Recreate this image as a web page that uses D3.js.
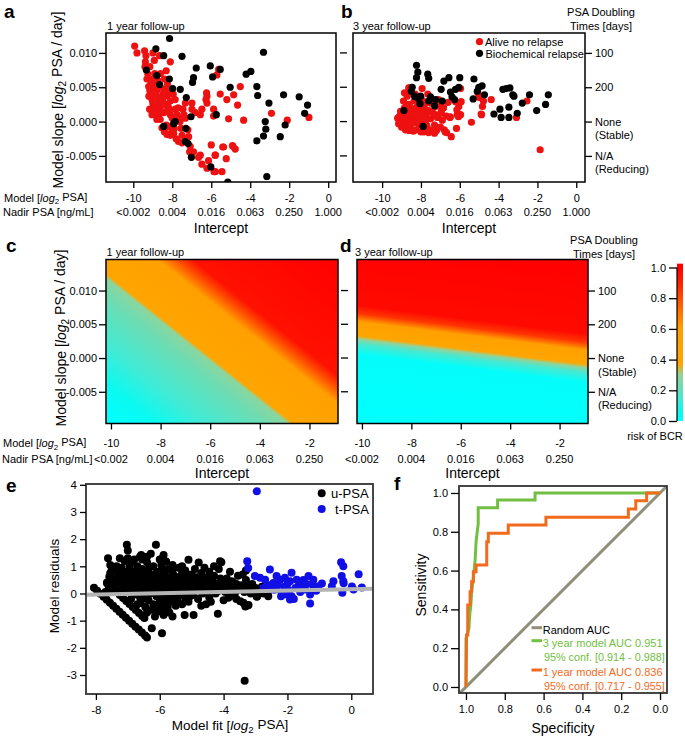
<!DOCTYPE html>
<html><head><meta charset="utf-8">
<script src="https://cdn.jsdelivr.net/npm/d3@7"></script>
<style>body{margin:0;background:#fff;} svg{display:block;}</style>
</head><body>
<svg id="chart" width="685" height="736"></svg>
<script>
// ---------------- DATA ----------------
const interceptTicks = [-10,-8,-6,-4,-2,0];
const modelLabels = ["-10","-8","-6","-4","-2","0"];
const nadirLabels = ["<0.002","0.004","0.016","0.063","0.250","1.000"];
const heatTicks = [-10,-8,-6,-4,-2];
const heatModelLabels = ["-10","-8","-6","-4","-2"];
const heatNadirLabels = ["<0.002","0.004","0.016","0.063","0.250"];
const slopeTicks = [-0.005,0,0.005,0.010];
const slopeLabels = ["-0.005","0.000","0.005","0.010"];
const doublingTicks = [0.010,0.005,0,-0.005];
const doublingLabels = [["100"],["200"],["None","(Stable)"],["N/A","(Reducing)"]];

const aRed = [
[-9.93,0.0110],[-9.81,0.0100],[-9.42,0.0103],[-9.35,0.0096],[-9.38,0.0087],[-8.99,0.0100],[-8.92,0.0089],[-8.65,0.0096],[-8.31,0.0074],[-8.10,0.0087],
[-9.25,0.0069],[-9.30,0.0062],[-9.21,0.0051],[-8.99,0.0062],[-8.87,0.0054],[-9.09,0.0042],[-9.04,0.0032],[-8.96,0.0025],[-8.82,0.0013],[-8.70,0.0036],
[-8.62,0.0023],[-8.48,0.0032],[-8.36,0.0047],[-8.27,0.0038],[-8.22,0.0023],[-8.44,0.0013],[-8.10,0.0010],[-8.19,-0.0007],[-8.02,-0.0014],[-8.27,-0.0019],
[-7.93,-0.0017],[-8.53,-0.0009],[-8.79,0.0003],[-9.04,0.0010],[-9.16,0.0018],[-8.62,0.0003],[-7.85,0.0032],[-7.85,0.0018],[-7.68,0.0005],[-7.45,0.0018],
[-7.33,0.0027],[-6.99,0.0027],[-6.99,0.0018],[-7.33,0.0005],[-7.68,-0.0029],[-7.50,-0.0031],[-7.16,-0.0022],[-7.08,-0.0036],[-6.91,-0.0044],[-7.11,-0.0044],
[-6.56,-0.0049],[-6.65,-0.0052],[-6.48,-0.0062],[-6.22,-0.0068],[-5.79,-0.0073],[-5.45,-0.0073],[-6.14,-0.0057],[-6.00,-0.0034],[-5.79,-0.0049],[-5.41,-0.0037],
[-4.89,-0.0036],[-4.77,-0.0040],[-5.23,-0.0054],[-6.56,0.0010],[-6.82,0.0013],[-6.48,0.0018],[-6.22,0.0027],[-6.22,0.0037],[-6.27,0.0032],[-5.88,0.0018],
[-5.88,0.0008],[-6.24,0.0042],[-5.71,0.0068],[-5.62,0.0076],[-5.54,0.0040],[-5.20,0.0032],[-5.11,0.0004],[-4.85,0.0039],[-4.51,0.0051],[-4.65,0.0024],
[-4.34,0.0002],[-2.91,0.0012],[-2.10,0.0002],[-0.99,0.0006],
[-9.10,0.0058],[-8.80,0.0045],[-8.60,0.0050],[-8.50,0.0028],[-8.30,0.0015],[-8.90,0.0018],[-8.70,0.0007],[-8.10,0.0030],[-8.00,0.0005],[-7.90,-0.0010],
[-8.40,-0.0015],[-8.60,0.0035],[-9.20,0.0037],[-9.00,0.0027],[-8.75,0.0060],[-8.40,0.0062],[-8.20,0.0045],[-7.95,0.0040],[-7.70,0.0020],[-7.60,0.0000],
[-7.50,-0.0020],[-7.30,-0.0026],[-7.20,-0.0012],[-7.40,0.0010],[-5.37,-0.0037],[-4.91,-0.0035],[-5.80,-0.0049],[-5.86,-0.0073],
[-9.15,0.0045],[-8.95,0.0040],[-8.85,0.0030],[-8.75,0.0020],[-8.55,0.0015],[-8.45,0.0042],[-8.35,0.0025],[-8.15,0.0018],[-8.05,0.0040],[-9.05,0.0050],
[-8.65,0.0012],[-8.90,0.0070],[-8.60,0.0070],[-8.25,0.0055],[-9.40,0.0080],[-9.15,0.0080],[-7.75,0.0010],[-7.55,-0.0010],[-8.30,-0.0005],[-8.10,-0.0020],[-7.80,-0.0025]
];
const aBlack = [
[-8.14,0.0121],[-8.84,0.0106],[-8.44,0.0096],[-7.50,0.0095],[-9.33,0.0075],[-8.79,0.0067],[-8.15,0.0062],[-8.65,0.0054],[-7.98,0.0048],[-7.59,0.0047],
[-7.28,0.0035],[-6.77,0.0078],[-6.91,0.0064],[-6.96,0.0057],[-6.05,0.0081],[-5.93,0.0065],[-5.54,0.0076],[-5.74,0.0010],[-7.04,0.0007],[-7.93,-0.0003],
[-7.85,0.0000],[-8.44,-0.0007],[-7.30,-0.0010],[-7.33,-0.0029],[-7.19,-0.0032],[-7.02,-0.0052],[-6.02,-0.0066],[-5.03,0.0050],[-4.21,0.0069],[-3.97,0.0073],
[-3.32,0.0101],[-3.66,0.0051],[-3.62,0.0038],[-3.04,0.0027],[-3.23,0.0000],[-3.20,-0.0011],[-3.32,-0.0021],[-3.66,-0.0028],[-2.29,0.0039],[-2.21,-0.0005],
[-2.46,-0.0022],[-1.49,0.0036],[-1.06,0.0024],[-1.21,0.0012],[-3.15,-0.0080],[-5.15,-0.0088]
];
const bRed = [
[-9.10,0.0008],[-9.00,0.0002],[-8.95,0.0013],[-8.90,-0.0003],[-8.85,0.0020],[-8.80,0.0008],[-8.75,-0.0006],[-8.70,0.0015],[-8.65,0.0003],[-8.60,0.0025],
[-8.55,-0.0008],[-8.50,0.0010],[-8.45,0.0018],[-8.40,-0.0002],[-8.35,0.0030],[-8.30,0.0005],[-8.25,-0.0012],[-8.20,0.0015],[-8.15,0.0024],[-8.10,-0.0005],
[-8.05,0.0008],[-8.00,0.0035],[-7.95,0.0018],[-7.90,0.0000],[-7.85,-0.0015],[-7.80,0.0026],[-7.75,0.0010],[-7.70,-0.0006],[-7.65,0.0040],[-7.60,0.0016],
[-7.55,-0.0012],[-7.50,0.0004],[-7.45,0.0030],[-7.40,-0.0014],[-7.35,0.0012],[-7.30,-0.0005],[-7.25,0.0022],[-7.20,-0.0013],[-7.15,0.0006],[-7.10,0.0032],
[-7.00,-0.0008],[-6.95,0.0014],[-6.90,0.0002],[-6.85,0.0020],[-6.80,-0.0012],[-6.70,0.0008],[-6.60,0.0028],[-6.50,0.0006],
[-8.63,0.0049],[-8.56,0.0049],[-7.94,0.0048],[-8.71,0.0037],[-8.11,0.0032],[-7.85,0.0029],[-7.51,0.0027],[-7.16,0.0029],[-6.99,0.0022],[-6.99,0.0012],
[-5.96,0.0048],[-6.22,0.0029],[-6.05,0.0022],[-5.93,0.0029],[-6.13,0.0010],[-5.96,0.0010],[-6.17,-0.0010],[-6.44,-0.0022],[-6.68,-0.0016],[-5.40,-0.0001],
[-4.88,0.0010],[-5.07,0.0042],[-5.00,0.0035],[-4.78,0.0030],[-4.83,0.0022],[-4.90,0.0011],[-4.38,0.0032],[-3.08,0.0006],[-2.54,0.0030],[-1.86,-0.0041],
[-6.15,0.0017],[-6.07,0.0007],[-6.75,-0.0015],[-6.49,0.0007],[-6.84,0.0020],[-9.20,0.0005],[-9.15,-0.0003],[-9.05,0.0015],[-8.90,0.0030],[-8.80,-0.0012],
[-8.60,-0.0013],[-8.40,-0.0014],[-8.00,-0.0015],[-7.60,-0.0016],[-7.30,-0.0017],[-8.30,0.0040],[-8.50,0.0042],[-8.85,0.0042],
[-8.95,0.0005],[-8.70,0.0000],[-8.45,0.0006],[-8.20,0.0000],[-8.00,0.0012],[-7.75,0.0002],[-7.50,0.0014],[-7.25,0.0008],[-8.60,0.0010],[-8.35,0.0012],
[-8.05,0.0022],[-7.80,0.0018],[-9.00,-0.0008],[-8.75,0.0025],[-8.50,-0.0002],[-8.25,0.0020]
];
const bBlack = [
[-8.23,0.0082],[-8.16,0.0072],[-8.23,0.0064],[-7.65,0.0069],[-7.60,0.0063],[-8.45,0.0050],[-8.33,0.0037],[-8.16,0.0034],[-8.02,0.0037],[-7.51,0.0036],
[-7.25,0.0032],[-7.30,0.0023],[-6.82,0.0059],[-6.56,0.0064],[-6.96,0.0047],[-6.48,0.0043],[-6.22,0.0047],[-6.05,0.0050],[-6.00,0.0064],[-6.27,0.0032],
[-5.27,0.0062],[-5.02,0.0050],[-4.85,0.0052],[-5.10,0.0044],[-5.31,0.0033],[-4.73,0.0039],[-8.88,0.0016],[-7.89,-0.0007],[-4.24,0.0011],[-3.93,0.0018],
[-3.87,0.0006],[-3.78,0.0047],[-3.61,0.0048],[-3.42,0.0049],[-3.27,0.0039],[-3.21,0.0037],[-3.47,0.0021],[-3.47,0.0006],[-3.04,0.0012],[-2.78,0.0027],
[-2.41,0.0039],[-2.04,0.0016],[-1.58,0.0025],[-1.44,0.0039],[-8.50,0.0044],[-8.05,0.0026],[-7.60,0.0030],[-6.90,0.0030],[-6.40,0.0036]
];

// heatmap isoline anchors: [intercept, slope] points on isolines and their risk
const colorRisk = [0,0.05,0.14,0.22,0.30,0.37,0.60,0.75,0.88,1.0];
const colorHex = ["#00ffff","#0afaf2","#40ebd6","#6edcb2","#90d49a","#ffa500","#ffa000","#ff6400","#ff2800","#ff0000"];
const heatCDir = [1,-0.00294];
const heatCX = [-10.2,-10.2,-10.2,-10.2,-10.2,-10.2,-8.13,-7.35,-6.71,-0.85];
const heatCY = [-0.0097,-0.0037,0.0018,0.0092,0.0119,0.0125,0.0146,0.0146,0.0146,0.0146];
const heatCR = [0,0.05,0.14,0.22,0.29,0.38,0.58,0.80,0.95,1.0];
const heatDDir = [1,-0.00046];
const heatDX = [-10.16,-10.16,-10.16,-10.16,-10.16,-10.16,-10.16,-10.16,-0.85];
const heatDY = [-0.0097,0.0006,0.0021,0.0028,0.0033,0.0054,0.0066,0.0078,0.0146];
const heatDR = [0,0.02,0.155,0.30,0.38,0.6,0.85,0.97,1.0];
const barTicks = [0,0.2,0.4,0.6,0.8,1.0];
const barLabels = ["0.0","0.2","0.4","0.6","0.8","1.0"];

// panel e
const eLine1 = [[-8.06,0.21],[-7.96,0.10],[-7.86,-0.01],[-7.76,-0.12],[-7.66,-0.23],[-7.56,-0.34],[-7.46,-0.45],[-7.36,-0.56],[-7.26,-0.67],[-7.16,-0.78],[-7.06,-0.89],[-6.96,-1.00],[-6.86,-1.11],[-6.76,-1.22],[-6.66,-1.33],[-6.56,-1.44],[-6.46,-1.55],[-6.40,-1.62]];
const eLine2 = [[-7.65,0.38],[-7.55,0.27],[-7.45,0.16],[-7.35,0.05],[-7.25,-0.06],[-7.15,-0.17],[-7.05,-0.28],[-6.95,-0.39],[-6.85,-0.50],[-6.75,-0.61],[-6.65,-0.72],[-6.55,-0.83],[-6.48,-0.90]];
const eCloud = [
[-7.62,1.30],[-7.55,1.05],[-7.50,0.88],[-7.58,0.62],[-7.55,0.45],[-7.60,0.28],[-7.50,0.15],[-7.70,0.05],
[-7.35,0.82],[-7.20,0.95],[-7.28,0.70],[-7.10,0.55],[-7.30,0.40],[-7.15,0.25],[-7.40,0.18],[-7.00,0.10],[-7.03,1.79],[-7.00,1.58],[-7.10,1.20],[-6.95,1.02],[-7.25,0.05],[-7.05,0.35],
[-6.90,0.85],[-6.80,0.65],[-6.70,1.00],[-6.62,1.35],[-6.55,1.25],[-6.85,0.45],[-6.65,0.30],[-6.75,0.15],[-6.90,0.25],[-6.60,0.55],[-6.58,1.42],[-6.50,0.75],[-6.70,-0.05],[-6.55,-0.20],[-6.60,-0.35],[-6.45,-0.50],[-6.80,0.00],
[-6.28,1.46],[-6.12,1.79],[-6.40,1.15],[-6.20,1.00],[-6.35,0.90],[-6.10,0.80],[-6.30,0.70],[-6.45,0.55],[-6.15,0.50],[-6.05,0.35],[-6.30,0.25],[-6.20,0.10],[-6.40,0.05],[-6.10,-0.10],[-6.35,-0.25],[-6.25,-1.28],[-6.05,-0.55],[-6.00,0.65],[-6.45,0.35],[-6.20,-0.40],
[-5.88,1.42],[-5.91,1.30],[-5.95,1.05],[-5.80,1.18],[-5.75,0.90],[-5.85,0.75],[-5.60,0.80],[-5.70,0.60],[-5.90,0.50],[-5.55,0.45],[-5.80,0.30],[-5.65,0.20],[-5.95,0.15],[-5.70,0.00],[-5.90,-0.15],[-5.75,-0.50],[-5.93,-1.46],[-5.60,-0.30],[-5.55,0.05],[-5.85,-0.60],
[-5.40,0.95],[-5.30,0.75],[-5.10,1.24],[-5.20,0.85],[-5.45,0.60],[-5.35,0.45],[-5.05,0.55],[-5.25,0.30],[-5.40,0.15],[-5.15,0.10],[-5.30,-0.05],[-5.22,-0.79],[-5.10,-0.30],[-5.45,-0.20],[-5.00,0.70],[-5.05,0.35],[-5.60,-0.85],
[-4.78,1.14],[-4.90,0.90],[-4.70,0.75],[-4.85,0.60],[-4.60,0.50],[-4.95,0.45],[-4.75,0.30],[-4.55,0.20],[-4.90,0.10],[-4.65,0.00],[-4.94,-0.79],[-4.80,-0.20],[-4.55,-0.40],[-4.70,0.55],
[-4.45,0.80],[-4.30,0.65],[-4.07,1.15],[-4.15,0.90],[-4.40,0.45],[-4.20,0.35],[-4.35,0.15],[-4.10,0.55],[-4.25,0.00],[-4.18,-0.75],[-4.05,0.20],[-4.45,-0.15],[-4.11,1.19],
[-3.90,0.55],[-3.75,0.45],[-3.60,0.35],[-3.85,0.25],[-3.70,0.15],[-3.55,0.65],[-3.95,0.05],[-3.80,-0.10],[-3.65,0.00],[-3.85,-0.16],
[-3.40,0.70],[-3.30,0.50],[-3.45,0.30],[-3.25,0.20],[-3.35,0.05],[-3.48,-0.29],[-3.32,-0.48],[-3.22,-0.42],[-3.38,-0.34],[-3.34,-3.21],[-3.10,0.35],[-3.00,0.20],[-2.90,0.10],[-2.80,0.25],[-2.70,0.15],[-2.60,0.10],[-2.95,-0.10],[-3.15,0.00],[-2.75,0.00],[-2.65,0.21],[-2.60,-0.10],[-2.96,-0.12],[-3.25,-0.44],
[-7.45,0.55],[-7.20,0.15],[-7.00,0.45],[-6.95,0.70],[-6.75,0.80],[-6.50,0.40],[-6.50,0.15],[-6.65,0.60],[-6.35,0.50],[-6.55,0.90],[-7.15,0.75],[-6.85,1.15],[-6.25,0.45],[-6.60,0.10],[-6.30,0.00],[-5.95,0.30],[-5.50,0.30],[-5.20,0.55],[-4.85,0.25],[-4.50,0.60],[-5.60,0.60],[-5.30,0.15],[-4.60,0.35],[-4.30,0.30],[-6.90,-0.20],[-6.70,-0.40],[-6.50,-0.15],[-6.05,0.10],[-5.80,-0.25],[-5.30,-0.40],[-4.95,-0.05],
[-6.14,-0.48],[-6.04,-0.66],[-5.88,-0.79],[-6.61,-0.17],
[-7.40,0.35],[-7.30,0.60],[-7.20,0.45],[-7.10,0.05],[-7.05,0.80],[-6.95,0.55],[-6.90,0.10],[-6.85,0.35],[-6.75,0.50],[-6.70,0.25],[-6.65,0.75],[-6.60,-0.05],[-6.55,0.45],[-6.45,0.70],[-6.40,0.25],[-6.35,0.10],[-6.30,0.45],[-6.25,0.60],[-6.20,0.30],[-6.15,0.15],
[-6.10,0.60],[-6.05,0.00],[-6.00,0.45],[-5.95,0.85],[-5.90,0.35],[-5.85,0.05],[-5.80,0.60],[-5.75,0.25],[-5.70,0.45],[-5.65,-0.10],[-5.60,0.15],[-5.55,0.65],[-5.50,0.10],[-5.45,0.35],[-5.40,-0.05],[-5.35,0.25],[-5.30,0.55],[-5.25,0.05],[-5.20,0.40],[-5.15,0.70],
[-5.10,0.20],[-5.05,-0.10],[-5.00,0.15],[-4.90,0.35],[-4.80,0.45],[-4.75,0.10],[-4.60,0.20],[-4.50,0.05],[-4.45,0.30],[-4.35,0.50],[-4.25,0.20],[-4.15,0.10],[-4.00,0.40],[-3.90,0.30],[-3.80,0.15],[-3.70,0.40],[-3.60,0.10],[-3.50,0.20],[-3.30,0.30],[-3.20,0.10],
[-3.05,0.05],[-2.85,0.15],[-7.55,0.75],[-7.45,0.95],[-7.65,0.40],[-7.35,1.00],[-7.25,1.30],[-7.00,1.30],[-6.80,1.25],[-6.40,1.35],[-6.00,1.25],[-5.60,1.05],[-5.30,1.00],[-4.60,0.95],[-4.30,1.00],[-3.80,0.80],[-3.30,0.85],[-6.25,-0.60],[-6.00,-0.30],[-5.50,-0.45],
[-5.20,-0.20],[-4.70,-0.45],[-4.40,-0.30],[-4.00,-0.25],[-3.60,-0.20],[-5.90,-0.40],[-6.40,-0.70],[-6.15,-0.85],[-5.70,-0.70]
];
const eT = [
[-2.96,3.76],[-3.26,1.19],[-3.23,0.94],[-3.02,0.64],[-2.86,0.58],[-2.55,0.88],[-2.70,0.51],[-2.44,0.39],[-2.34,0.64],[-2.23,0.51],
[-2.08,0.58],[-1.87,0.76],[-1.92,0.45],[-1.71,0.51],[-1.55,0.39],[-1.34,0.64],[-1.19,0.51],[-1.29,-0.04],[-1.29,-0.37],[-0.92,0.37],
[-0.56,0.45],[-0.32,1.15],[-0.25,1.00],[-0.30,0.64],[-0.25,0.45],[-0.28,0.03],[0.07,0.15],[-2.18,0.03],[-2.02,-0.04],[-1.87,-0.10],
[-2.39,0.15],[-1.92,-0.22],[-1.45,0.15],[-1.66,0.27],[-1.03,0.27],[-0.61,0.27],[0.23,0.71],[0.02,0.26],[0.33,0.22],[-0.24,0.38],
[-2.60,0.30],[-2.45,0.15],[-2.30,0.30],[-2.10,0.25],[-1.95,0.10],[-1.75,0.20],[-1.60,0.05],[-1.40,0.35],[-1.10,0.10],[-2.20,-0.10],[-1.80,-0.20],
[-2.75,0.20],[-1.50,0.50],[-2.00,0.35],[-1.20,0.30]
];
const fitX = [-8.3,0.68];
const fitY = [-0.05,0.17];
const eXTicks = [-8,-6,-4,-2,0];
const eYTicks = [-3,-2,-1,0,1,2,3,4];

// panel f ROC
const roc3Spec = [1.0,1.0,0.985,0.98,0.975,0.97,0.965,0.96,0.955,0.952,0.948,0.942,0.937,0.937,0.837,0.837,0.644,0.644,0.0];
const roc3Sens = [0,0.25,0.30,0.38,0.42,0.50,0.54,0.58,0.63,0.67,0.75,0.80,0.84,0.924,0.924,0.964,0.964,1.0,1.0];
const roc1Spec = [1.0,0.997,0.991,0.991,0.979,0.979,0.971,0.971,0.962,0.962,0.948,0.948,0.893,0.893,0.885,0.885,0.782,0.782,0.588,0.588,0.163,0.163,0.125,0.125,0.069,0.069,0.0];
const roc1Sens = [0,0.268,0.268,0.423,0.423,0.491,0.491,0.543,0.543,0.594,0.594,0.629,0.629,0.749,0.749,0.792,0.792,0.835,0.835,0.875,0.875,0.918,0.918,0.960,0.960,1.0,1.0];
const randSpec = [1.036,-0.036];
const randSens = [-0.036,1.036];
const fTicks = [0,0.2,0.4,0.6,0.8,1.0];
const fLabels = ["0.0","0.2","0.4","0.6","0.8","1.0"];

// ---------------- DRAW ----------------
const FONT = '"Liberation Sans", Arial, Helvetica, sans-serif';
const svg = d3.select("#chart").attr("font-family", FONT);
const defs = svg.append("defs");
const RED = "#ee1111", BLUE = "#1010e6", GREEN = "#72c043", ORANGE = "#f26b1d", GREY = "#8f8f7c";

function axis(gen, tx, ty, fs) {
  const a = svg.append("g").attr("transform", `translate(${tx},${ty})`).call(gen);
  a.attr("font-size", fs).attr("font-family", FONT);
  a.select(".domain").remove();
  a.selectAll(".tick line").attr("stroke", "#000").attr("stroke-width", 1.3);
  a.selectAll(".tick text").attr("fill", "#000");
  return a;
}
function txt(x, y, s, fs, opts = {}) {
  const t = svg.append("text").attr("x", x).attr("y", y).attr("font-size", fs).text(s);
  if (opts.anchor) t.attr("text-anchor", opts.anchor);
  if (opts.weight) t.attr("font-weight", opts.weight);
  if (opts.fill) t.attr("fill", opts.fill);
  return t;
}
function logLabel(t, pre, post) {
  t.text(null);
  t.append("tspan").text(pre);
  t.append("tspan").attr("font-style", "italic").text("log");
  t.append("tspan").attr("font-size", "0.72em").attr("dy", "0.3em").text("2");
  t.append("tspan").attr("dy", "-0.3em").text(post);
  return t;
}
function frame(xs, ys, color, w) {
  const [x0, x1] = xs.range(), [yb, yt] = ys.range();
  svg.append("rect").attr("x", x0).attr("y", yt).attr("width", x1 - x0).attr("height", yb - yt)
    .attr("fill", "none").attr("stroke", color).attr("stroke-width", w);
}
function clipFor(id, xs, ys) {
  const [x0, x1] = xs.range(), [yb, yt] = ys.range();
  defs.append("clipPath").attr("id", id).append("rect").attr("x", x0).attr("y", yt).attr("width", x1 - x0).attr("height", yb - yt);
  return `url(#${id})`;
}
function dots(data, xs, ys, r, fill, clip) {
  svg.append("g").attr("clip-path", clip).selectAll("circle").data(data).join("circle")
    .attr("cx", d => xs(d[0])).attr("cy", d => ys(d[1])).attr("r", r).attr("fill", fill);
}
function slopeYAxis(ys, x) {
  axis(d3.axisLeft(ys).tickValues(slopeTicks).tickFormat((d, i) => slopeLabels[i]).tickSize(7).tickPadding(2), x, 0, 11);
}
function interceptXAxis(xs, ys, ticks, l1, l2, pad, row2y, titleY) {
  const yb = ys.range()[0];
  axis(d3.axisBottom(xs).tickValues(ticks).tickFormat((d, i) => l1[i]).tickSize(6).tickPadding(pad), 0, yb, 11);
  svg.append("g").selectAll("text").data(ticks).join("text")
    .attr("x", d => xs(d)).attr("y", row2y).attr("text-anchor", "middle").attr("font-size", 11).text((d, i) => l2[i]);
  const [x0, x1] = xs.range();
  txt((x0 + x1) / 2, titleY, "Intercept", 14, { anchor: "middle" });
}
function ghostTicks(ys, x) { // short left ticks detached from the box
  svg.append("g").selectAll("line").data(slopeTicks).join("line")
    .attr("x1", x).attr("x2", x + 7).attr("y1", d => ys(d)).attr("y2", d => ys(d))
    .attr("stroke", "#000").attr("stroke-width", 1.3);
}
function doublingAxis(ys, x, t1y, t2y) {
  axis(d3.axisRight(ys).tickValues(doublingTicks).tickFormat("").tickSize(7), x, 0, 11);
  const g = svg.append("g").attr("font-size", 11);
  doublingTicks.forEach((v, i) => {
    doublingLabels[i].forEach((s, j) => {
      g.append("text").attr("x", x + 10).attr("y", ys(v) + 4 + j * 13.5).text(s);
    });
  });
  txt(x + 16, t1y, "PSA Doubling", 11, { anchor: "middle" });
  txt(x + 16, t2y, "Times [days]", 11, { anchor: "middle" });
}

// ---- panel a ----
const xA = d3.scaleLinear([-11.4, 0.4], [106, 336]);
const yA = d3.scaleLinear([-0.0088, 0.0129], [182, 33]);
const clipA = clipFor("clipA", xA, yA);
dots(aRed, xA, yA, 3.6, RED, clipA);
dots(aBlack, xA, yA, 3.6, "#000", clipA);
frame(xA, yA, "#000", 1.5);
slopeYAxis(yA, 106);
interceptXAxis(xA, yA, interceptTicks, modelLabels, nadirLabels, 6, 215.7, 232.5);
txt(107, 30, "1 year follow-up", 11);
txt(4, 18, "a", 19, { weight: "bold" });
logLabel(txt(4, 201.7, "", 11), "Model [", " PSA]");
txt(3, 215.7, "Nadir PSA [ng/mL]", 11);
logLabel(svg.append("text").attr("transform", "translate(63,100) rotate(-90)").attr("text-anchor", "middle").attr("font-size", 14),
  "Model slope [", " PSA / day]");

// ---- panel b ----
const xB = d3.scaleLinear([-11.5, 0.45], [353, 585]);
const yB = d3.scaleLinear([-0.0088, 0.0129], [182, 33]);
const clipB = clipFor("clipB", xB, yB);
dots(bRed, xB, yB, 3.6, RED, clipB);
dots(bBlack, xB, yB, 3.6, "#000", clipB);
frame(xB, yB, "#000", 1.5);
ghostTicks(yB, 340);
interceptXAxis(xB, yB, interceptTicks, modelLabels, nadirLabels, 6, 215.7, 232.5);
doublingAxis(yB, 585, 16, 29.5);
txt(353, 30, "3 year follow-up", 11);
txt(341, 18, "b", 19, { weight: "bold" });
svg.append("circle").attr("cx", 479.5).attr("cy", 41.7).attr("r", 3.6).attr("fill", RED);
txt(485, 45.7, "Alive no relapse", 11);
svg.append("circle").attr("cx", 479.5).attr("cy", 53.3).attr("r", 3.6).attr("fill", "#000");
txt(485.5, 57.5, "Biochemical relapse", 11);

// ---- heatmaps ----
const colorScale = d3.scaleLinear().domain(colorRisk).range(colorHex).interpolate(d3.interpolateRgb);
function drawHeat(id, xs, ys, dir, ax, ay, ar) {
  const kx = xs(1) - xs(0), ky = ys(1) - ys(0);
  let dx = dir[0] * kx, dy = dir[1] * ky; const L = Math.hypot(dx, dy); dx /= L; dy /= L;
  const nx = -dy, ny = dx;
  const s = (px, py) => px * nx + py * ny;
  const [x0, x1] = xs.range(), [yb, yt] = ys.range();
  const cs = [[x0, yt], [x1, yt], [x0, yb], [x1, yb]].map(p => s(p[0], p[1]));
  const smin = d3.min(cs), smax = d3.max(cs);
  const cx = (x0 + x1) / 2, cy = (yt + yb) / 2, sc = s(cx, cy);
  const grad = defs.append("linearGradient").attr("id", id).attr("gradientUnits", "userSpaceOnUse")
    .attr("x1", cx + nx * (smin - sc)).attr("y1", cy + ny * (smin - sc))
    .attr("x2", cx + nx * (smax - sc)).attr("y2", cy + ny * (smax - sc));
  const st = ax.map((v, i) => ({ o: (s(xs(v), ys(ay[i])) - smin) / (smax - smin), r: ar[i] })).sort((a, b) => a.o - b.o);
  grad.selectAll("stop").data(st).join("stop")
    .attr("offset", d => Math.max(0, Math.min(1, d.o))).attr("stop-color", d => colorScale(d.r));
  svg.append("rect").attr("x", x0).attr("y", yt).attr("width", x1 - x0).attr("height", yb - yt).attr("fill", `url(#${id})`);
}

// ---- panel c ----
const xC = d3.scaleLinear([-10.2, -0.85], [106, 338]);
const yC = d3.scaleLinear([-0.0097, 0.0146], [423.5, 259.5]);
drawHeat("gradC", xC, yC, heatCDir, heatCX, heatCY, heatCR);
frame(xC, yC, "#000", 1.5);
slopeYAxis(yC, 106);
interceptXAxis(xC, yC, heatTicks, heatModelLabels, heatNadirLabels, 10, 463, 478);
txt(106.5, 256, "1 year follow-up", 11);
txt(6, 252, "c", 19, { weight: "bold" });
logLabel(txt(3, 447.3, "", 11), "Model [", " PSA]");
txt(2, 463, "Nadir PSA [ng/mL]", 11);
logLabel(svg.append("text").attr("transform", "translate(66,338) rotate(-90)").attr("text-anchor", "middle").attr("font-size", 14),
  "Model slope [", " PSA / day]");

// ---- panel d ----
const xD = d3.scaleLinear([-10.2, -0.85], [357, 588]);
const yD = d3.scaleLinear([-0.0097, 0.0146], [423.5, 259.5]);
drawHeat("gradD", xD, yD, heatDDir, heatDX, heatDY, heatDR);
frame(xD, yD, "#000", 1.5);
ghostTicks(yD, 341);
interceptXAxis(xD, yD, heatTicks, heatModelLabels, heatNadirLabels, 10, 463, 478);
doublingAxis(yD, 588, 244, 258);
txt(355, 256, "3 year follow-up", 11);
txt(340, 252, "d", 19, { weight: "bold" });

// colour bar
const yBar = d3.scaleLinear([0, 1], [421, 267.5]);
const barGrad = defs.append("linearGradient").attr("id", "barGrad").attr("gradientUnits", "userSpaceOnUse")
  .attr("x1", 0).attr("x2", 0).attr("y1", yBar(0)).attr("y2", yBar(1));
barGrad.selectAll("stop").data(colorRisk).join("stop").attr("offset", d => d).attr("stop-color", (d, i) => colorHex[i]);
svg.append("rect").attr("x", 677).attr("y", yBar(1.025)).attr("width", 6).attr("height", yBar(0) - yBar(1.025)).attr("fill", "url(#barGrad)");
svg.append("line").attr("x1", 677).attr("x2", 677).attr("y1", yBar(1)).attr("y2", yBar(0)).attr("stroke", "#000").attr("stroke-width", 1.2);
axis(d3.axisLeft(yBar).tickValues(barTicks).tickFormat((d, i) => barLabels[i]).tickSize(8).tickPadding(3), 677, 0, 11);
txt(655, 440, "risk of BCR", 11, { anchor: "middle" });

// ---- panel e ----
const xE = d3.scaleLinear([-8.31, 0.68], [86, 373]);
const yE = d3.scaleLinear([-3.7, 4.03], [694, 484]);
const clipE = clipFor("clipE", xE, yE);
dots(eLine1, xE, yE, 4, "#000", clipE);
dots(eLine2, xE, yE, 4, "#000", clipE);
dots(eCloud, xE, yE, 4, "#000", clipE);
dots(eT, xE, yE, 4, BLUE, clipE);
svg.append("line").attr("clip-path", clipE)
  .attr("x1", xE(fitX[0])).attr("y1", yE(fitY[0])).attr("x2", xE(fitX[1])).attr("y2", yE(fitY[1]))
  .attr("stroke", "#b4b4b4").attr("stroke-width", 4);
frame(xE, yE, "#333", 1.8);
axis(d3.axisLeft(yE).tickValues(eYTicks).tickFormat(d => String(d)).tickSize(6).tickPadding(3), 86, 0, 11.5);
axis(d3.axisBottom(xE).tickValues(eXTicks).tickFormat(d => String(d)).tickSize(6).tickPadding(6), 0, 694, 11.5);
logLabel(txt(230, 730, "", 13.5, { anchor: "middle" }), "Model fit [", " PSA]");
svg.append("text").attr("transform", "translate(59,586) rotate(-90)").attr("text-anchor", "middle").attr("font-size", 13.5).text("Model residuals");
txt(6, 492, "e", 19, { weight: "bold" });
svg.append("circle").attr("cx", 321.7).attr("cy", 493.3).attr("r", 4).attr("fill", "#000");
txt(331, 497.8, "u-PSA", 13);
svg.append("circle").attr("cx", 321.7).attr("cy", 509).attr("r", 4).attr("fill", BLUE);
txt(335, 513.5, "t-PSA", 13);

// ---- panel f ----
const xF = d3.scaleLinear([1.036, -0.036], [459, 667]);
const yF = d3.scaleLinear([-0.031, 1.036], [693, 486]);
const clipF = clipFor("clipF", xF, yF);
const line = d3.line().x(d => xF(d[0])).y(d => yF(d[1]));
svg.append("path").attr("clip-path", clipF).attr("d", line(randSpec.map((v, i) => [v, randSens[i]])))
  .attr("fill", "none").attr("stroke", GREY).attr("stroke-width", 3);
svg.append("path").attr("clip-path", clipF).attr("d", line(roc3Spec.map((v, i) => [v, roc3Sens[i]])))
  .attr("fill", "none").attr("stroke", GREEN).attr("stroke-width", 3);
svg.append("path").attr("clip-path", clipF).attr("d", line(roc1Spec.map((v, i) => [v, roc1Sens[i]])))
  .attr("fill", "none").attr("stroke", ORANGE).attr("stroke-width", 3);
frame(xF, yF, "#333", 1.8);
axis(d3.axisLeft(yF).tickValues(fTicks).tickFormat((d, i) => fLabels[i]).tickSize(8).tickPadding(3), 459, 0, 11);
axis(d3.axisBottom(xF).tickValues(fTicks).tickFormat((d, i) => fLabels[i]).tickSize(7).tickPadding(5), 0, 693, 11);
svg.append("text").attr("transform", "translate(426,585) rotate(-90)").attr("text-anchor", "middle").attr("font-size", 14).text("Sensitivity");
txt(563, 733, "Specificity", 14, { anchor: "middle" });
txt(394, 490, "f", 19, { weight: "bold" });
[[627.7, GREY], [640.7, GREEN], [670, ORANGE]].forEach(([y, c]) => {
  svg.append("line").attr("x1", 531.5).attr("x2", 542).attr("y1", y).attr("y2", y).attr("stroke", c).attr("stroke-width", 3);
});
txt(542.7, 634, "Random AUC", 11);
txt(542.7, 647.3, "3 year model AUC 0.951", 11, { fill: GREEN });
txt(544, 660.7, "95% conf. [0.914 - 0.988]", 10.8, { fill: GREEN });
txt(542.7, 676.3, "1 year model AUC 0.836", 11, { fill: ORANGE });
txt(544, 690, "95% conf. [0.717 - 0.955]", 10.8, { fill: ORANGE });
</script>
</body></html>
